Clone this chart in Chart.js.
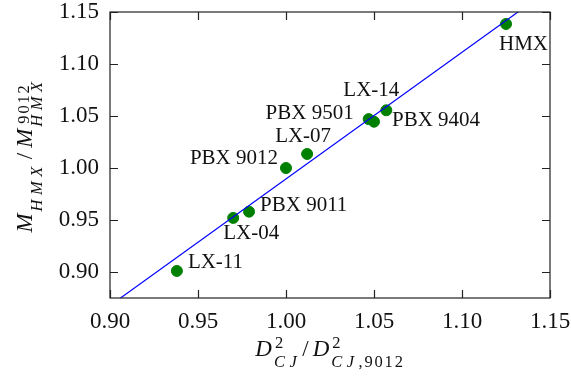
<!DOCTYPE html>
<html>
<head>
<meta charset="utf-8">
<script src="https://cdn.jsdelivr.net/npm/chart.js@4/dist/chart.umd.min.js"></script>
<style>
  html, body { margin: 0; padding: 0; background: #fff; }
  #wrap { width: 571px; height: 377px; position: relative; }
</style>
</head>
<body>
<div id="wrap"><canvas id="chart"></canvas></div>
<script>
// Explosive formulations: normalised CJ detonation term vs. normalised HMX mass
const explosives = ['HMX', 'LX-14', 'PBX 9501', 'PBX 9404', 'LX-07', 'PBX 9012', 'PBX 9011', 'LX-04', 'LX-11'];
const dcjRatio   = [1.125, 1.057, 1.047, 1.050, 1.012, 1.000, 0.979, 0.970, 0.938];
const massRatio  = [1.1385, 1.0555, 1.047, 1.0445, 1.0135, 1.000, 0.958, 0.952, 0.901];

// Straight-line fit through the formulations
const fitX = [0.905, 1.135];
const fitY = [0.8738, 1.1539];

// Axis ticks
const xTicks = [0.90, 0.95, 1.00, 1.05, 1.10, 1.15];
const yTicks = [0.90, 0.95, 1.00, 1.05, 1.10, 1.15];

const SERIF = '"Liberation Serif", "Times New Roman", serif';

// Where each name sits relative to its marker
const labelPlacement = {
  'HMX':      { dx: -7,  dy: 21,  align: 'left' },
  'LX-14':    { dx: 13,  dy: -20, align: 'right' },
  'PBX 9501': { dx: -15, dy: -6,  align: 'right' },
  'PBX 9404': { dx: 18,  dy: -1,  align: 'left' },
  'LX-07':    { dx: -4,  dy: -17, align: 'center' },
  'PBX 9012': { dx: -8,  dy: -10, align: 'right' },
  'PBX 9011': { dx: 11,  dy: -6,  align: 'left' },
  'LX-04':    { dx: -10, dy: 16,  align: 'left' },
  'LX-11':    { dx: 11,  dy: -8,  align: 'left' }
};

// Rich text: math-italic base glyphs plus stacked super/subscripts
const BASE = 23, SCRIPT = 16.5;
const ITALIC_TRACK = 4.5, UPRIGHT_TRACK = 1.8;
function fontFor(size, italic) { return (italic ? 'italic ' : '') + size + 'px ' + SERIF; }
function runWidth(ctx, runs, size) {
  let w = 0;
  for (const [t, it] of runs) {
    ctx.font = fontFor(size, it);
    for (const ch of t) w += ctx.measureText(ch).width + (it ? ITALIC_TRACK : UPRIGHT_TRACK);
  }
  return w;
}
function drawRun(ctx, runs, size, x, y) {
  for (const [t, it] of runs) {
    ctx.font = fontFor(size, it);
    for (const ch of t) {
      ctx.fillText(ch, x, y);
      x += ctx.measureText(ch).width + (it ? ITALIC_TRACK : UPRIGHT_TRACK);
    }
  }
}
function partWidth(ctx, p) {
  if (p.t !== undefined) {
    ctx.font = fontFor(BASE, p.it);
    return ctx.measureText(p.t).width + (p.gap || 0) + (p.pre || 0);
  }
  const a = p.sup ? runWidth(ctx, p.sup, SCRIPT) + (p.supShift || 0) : 0;
  const b = p.sub ? runWidth(ctx, p.sub, SCRIPT) : 0;
  return Math.max(a, b);
}
function drawRich(ctx, parts, cx, baseline, shifts) {
  let total = 0;
  for (const p of parts) total += partWidth(ctx, p);
  let x = cx - total / 2;
  ctx.textBaseline = 'alphabetic';
  ctx.textAlign = 'left';
  for (const p of parts) {
    if (p.t !== undefined) {
      ctx.font = fontFor(BASE, p.it);
      ctx.fillText(p.t, x + (p.pre || 0), baseline);
    } else {
      if (p.sup) drawRun(ctx, p.sup, SCRIPT, x + (p.supShift || 0), baseline - shifts.sup);
      if (p.sub) drawRun(ctx, p.sub, SCRIPT, x, baseline + shifts.sub);
    }
    x += partWidth(ctx, p);
  }
}

const xTitle = [
  { t: 'D', it: true, gap: 2 }, { sup: [['2', false]], sub: [['CJ', true]], supShift: 1 },
  { t: '/', it: false, gap: 4, pre: 1 },
  { t: 'D', it: true, gap: 2 }, { sup: [['2', false]], sub: [['CJ', true], [',9012', false]], supShift: 1 }
];
const yTitle = [
  { t: 'M', it: true, gap: 2 }, { sub: [['HMX', true]] },
  { t: '/', it: false, gap: 5, pre: 3 },
  { t: 'M', it: true, gap: 2 }, { sup: [['9012', false]], sub: [['HMX', true]], supShift: 3 }
];

const framePlugin = {
  id: 'frame',
  afterDraw(chart) {
    const { ctx, chartArea: a, scales: { x, y } } = chart;
    ctx.save();
    ctx.strokeStyle = '#222';
    ctx.lineWidth = 1.2;
    ctx.strokeRect(a.left, a.top, a.right - a.left, a.bottom - a.top);
    const L = 8;
    ctx.beginPath();
    for (const v of xTicks) {
      const px = Math.round(x.getPixelForValue(v)) + 0.5;
      ctx.moveTo(px, a.bottom); ctx.lineTo(px, a.bottom - L);
      ctx.moveTo(px, a.top); ctx.lineTo(px, a.top + L);
    }
    for (const v of yTicks) {
      const py = Math.round(y.getPixelForValue(v)) + 0.5;
      ctx.moveTo(a.left, py); ctx.lineTo(a.left + L, py);
      ctx.moveTo(a.right, py); ctx.lineTo(a.right - L, py);
    }
    ctx.stroke();

    // marker names
    const meta = chart.getDatasetMeta(1);
    ctx.fillStyle = '#111';
    ctx.font = '21px ' + SERIF;
    ctx.textBaseline = 'middle';
    meta.data.forEach((pt, i) => {
      const name = explosives[i];
      const pl = labelPlacement[name];
      ctx.textAlign = pl.align;
      ctx.fillText(name, pt.x + pl.dx, pt.y + pl.dy);
    });

    // axis titles
    ctx.fillStyle = '#111';
    drawRich(ctx, xTitle, (a.left + a.right) / 2, 356, { sup: 8, sub: 11 });
    ctx.save();
    ctx.translate(32, (a.top + a.bottom) / 2);
    ctx.rotate(-Math.PI / 2);
    drawRich(ctx, yTitle, 0, 0, { sup: 3, sub: 10 });
    ctx.restore();
    ctx.restore();
  }
};

new Chart(document.getElementById('chart'), {
  type: 'scatter',
  data: {
    datasets: [
      {
        type: 'line',
        data: fitX.map((v, i) => ({ x: v, y: fitY[i] })),
        borderColor: '#0000ff',
        borderWidth: 1.2,
        pointRadius: 0,
        fill: false,
        clip: 0
      },
      {
        data: dcjRatio.map((v, i) => ({ x: v, y: massRatio[i] })),
        backgroundColor: '#008000',
        borderColor: '#008000',
        pointRadius: 5.5,
        pointHoverRadius: 5.5
      }
    ]
  },
  options: {
    responsive: true,
    maintainAspectRatio: false,
    animation: false,
    events: [],
    layout: { padding: { left: 0, right: 21, top: 12, bottom: 0 } },
    plugins: { legend: { display: false }, tooltip: { enabled: false } },
    scales: {
      x: {
        type: 'linear',
        min: 0.90, max: 1.15,
        grid: { display: false, drawTicks: false },
        border: { display: false },
        afterBuildTicks: s => { s.ticks = xTicks.map(v => ({ value: v })); },
        afterFit: s => { s.height = 79; s.paddingLeft = 0; s.paddingRight = 0; },
        ticks: {
          autoSkip: false, maxRotation: 0, padding: 10,
          color: '#111', font: { family: SERIF, size: 23 },
          callback: v => v.toFixed(2)
        }
      },
      y: {
        type: 'linear',
        min: 0.875, max: 1.15,
        grid: { display: false, drawTicks: false },
        border: { display: false },
        afterBuildTicks: s => { s.ticks = yTicks.map(v => ({ value: v })); },
        afterFit: s => { s.width = 110; s.paddingTop = 0; s.paddingBottom = 0; },
        ticks: {
          autoSkip: false, padding: 11,
          color: '#111', font: { family: SERIF, size: 23 },
          callback: v => v.toFixed(2)
        }
      }
    }
  },
  plugins: [framePlugin]
});
</script>
</body>
</html>
